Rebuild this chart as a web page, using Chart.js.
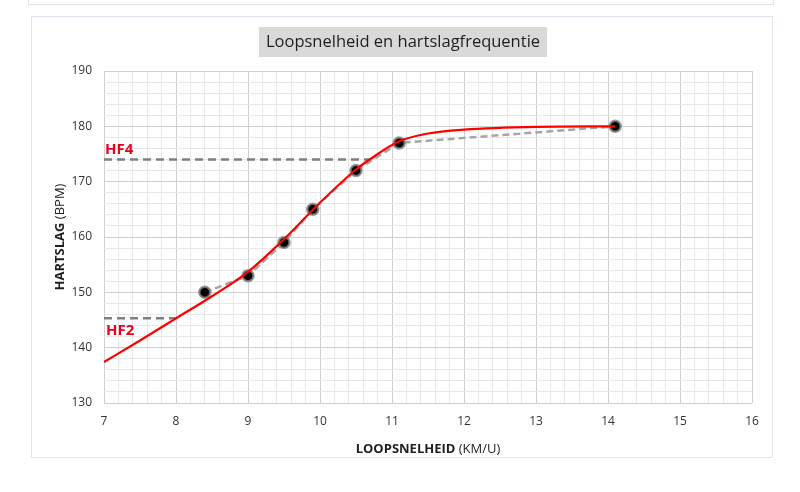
<!DOCTYPE html>
<html>
<head>
<meta charset="utf-8">
<script src="https://cdn.jsdelivr.net/npm/chart.js@4.4.1/dist/chart.umd.min.js"></script>
<style>
  html, body { margin: 0; padding: 0; background: #ffffff; }
  #wrap { position: absolute; left: 0; top: 0; width: 800px; height: 492px; }
</style>
</head>
<body>
<div id="wrap"><canvas id="c" width="800" height="492"></canvas></div>
<script>
// ---- data ----
const chartTitle = 'Loopsnelheid en hartslagfrequentie';
const xTitleBold = 'LOOPSNELHEID';
const xTitleNormal = ' (KM/U)';
const yTitleBold = 'HARTSLAG';
const yTitleNormal = ' (BPM)';

const speed = [8.4, 9, 9.5, 9.9, 10.5, 11.1, 14.1];
const heartRate = [150, 153, 159, 165, 172, 177, 180];

const fitSpeed = [7, 7.5, 8, 8.5, 9, 9.5, 10, 10.5, 10.7, 11.1, 11.5, 12, 13, 14.1];
const fitHeartRate = [137.4, 141.3, 145.3, 149.3, 153.7, 159.6, 166.2, 172.2, 174.1, 177.3, 178.7, 179.4, 179.9, 180];

const hf4Speed = [7, 10.7];
const hf4Rate = [174, 174];
const hf2Speed = [7, 8];
const hf2Rate = [145.3, 145.3];
const hfLabels = ['HF4', 'HF2'];

const xMin = 7, xMax = 16, xMinor = 0.2;
const yMin = 130, yMax = 190, yMinor = 2;

const toXY = (xs, ys) => xs.map((x, i) => ({ x: x, y: ys[i] }));
const isMajor = (v, step) => Math.abs(v / step - Math.round(v / step)) < 1e-6;

const FONT = "'Open Sans', 'Liberation Sans', sans-serif";

const decorPlugin = {
  id: 'decor',
  beforeDraw(chart) {
    const ctx = chart.ctx;
    ctx.save();
    ctx.fillStyle = '#ffffff';
    ctx.fillRect(0, 0, chart.width, chart.height);
    ctx.strokeStyle = '#dfe5ec';
    ctx.lineWidth = 1;
    ctx.strokeRect(28.5, -10.5, 745, 15);
    ctx.strokeRect(31.5, 16.5, 741, 441);
    // title
    let size = 18;
    ctx.font = size + 'px ' + FONT;
    while (ctx.measureText(chartTitle).width > 280 && size > 10) {
      size -= 0.5;
      ctx.font = size + 'px ' + FONT;
    }
    const tw = ctx.measureText(chartTitle).width;
    const cx = 403;
    ctx.fillStyle = '#d9d9d9';
    ctx.fillRect(cx - tw / 2 - 7, 27, tw + 14, 30);
    ctx.fillStyle = '#1f1f1f';
    ctx.textAlign = 'center';
    ctx.textBaseline = 'middle';
    ctx.fillText(chartTitle, cx, 42.5);
    ctx.restore();
  },
  afterDraw(chart) {
    const ctx = chart.ctx;
    const xs = chart.scales.x, ys = chart.scales.y;
    const area = chart.chartArea;
    ctx.save();
    ctx.fillStyle = '#1f1f1f';
    ctx.textBaseline = 'middle';
    // x title
    const bF = 'bold 13px ' + FONT, nF = '13px ' + FONT;
    ctx.font = bF; const w1 = ctx.measureText(xTitleBold).width;
    ctx.font = nF; const w2 = ctx.measureText(xTitleNormal).width;
    let sx = (area.left + area.right) / 2 - (w1 + w2) / 2;
    ctx.textAlign = 'left';
    ctx.font = bF; ctx.fillText(xTitleBold, sx, 449);
    ctx.font = nF; ctx.fillText(xTitleNormal, sx + w1, 449);
    // y title
    ctx.save();
    ctx.translate(60, (area.top + area.bottom) / 2);
    ctx.rotate(-Math.PI / 2);
    ctx.font = bF; const v1 = ctx.measureText(yTitleBold).width;
    ctx.font = nF; const v2 = ctx.measureText(yTitleNormal).width;
    const s = -(v1 + v2) / 2;
    ctx.font = bF; ctx.fillText(yTitleBold, s, 0);
    ctx.font = nF; ctx.fillText(yTitleNormal, s + v1, 0);
    ctx.restore();
    // HF labels
    ctx.fillStyle = '#e8001c';
    ctx.font = 'bold 15px ' + FONT;
    ctx.textAlign = 'left';
    ctx.fillText(hfLabels[0], xs.getPixelForValue(xMin) + 1, ys.getPixelForValue(hf4Rate[0]) - 10);
    ctx.fillText(hfLabels[1], xs.getPixelForValue(xMin) + 2, ys.getPixelForValue(hf2Rate[0]) + 12);
    ctx.restore();
  }
};

new Chart(document.getElementById('c'), {
  type: 'scatter',
  data: {
    datasets: [
      {
        label: 'fit',
        data: toXY(fitSpeed, fitHeartRate),
        showLine: true,
        borderColor: '#ff0000',
        borderWidth: 2.2,
        pointRadius: 0,
        cubicInterpolationMode: 'monotone',
        fill: false
      },
      {
        label: 'metingen',
        data: toXY(speed, heartRate),
        showLine: true,
        borderColor: '#a6a6a6',
        borderWidth: 2.5,
        borderDash: [7, 4],
        tension: 0,
        pointRadius: 5.5,
        pointBackgroundColor: '#000000',
        pointBorderColor: 'rgba(130,130,130,0.8)',
        pointBorderWidth: 2.5
      },
      {
        label: 'HF4',
        data: toXY(hf4Speed, hf4Rate),
        showLine: true,
        borderColor: '#7f7f7f',
        borderWidth: 2.5,
        borderDash: [8, 5],
        pointRadius: 0
      },
      {
        label: 'HF2',
        data: toXY(hf2Speed, hf2Rate),
        showLine: true,
        borderColor: '#7f7f7f',
        borderWidth: 2.5,
        borderDash: [8, 5],
        pointRadius: 0
      }
    ]
  },
  options: {
    responsive: false,
    animation: false,
    devicePixelRatio: 1,
    layout: { padding: { left: 31, right: 48, top: 71, bottom: 0 } },
    plugins: {
      legend: { display: false },
      title: { display: false },
      tooltip: { enabled: false }
    },
    scales: {
      x: {
        type: 'linear',
        min: xMin, max: xMax,
        afterFit(scale) { scale.height = 89; },
        border: { display: false },
        grid: {
          drawTicks: false,
          color: (c) => isMajor(c.tick.value, 1) ? '#d0d0d0' : '#e8e8e8',
          lineWidth: 1
        },
        ticks: {
          stepSize: xMinor,
          maxTicksLimit: 200,
          autoSkip: false,
          maxRotation: 0,
          padding: 11,
          color: '#333333',
          font: { size: 12, family: FONT },
          callback: (v) => isMajor(v, 1) ? String(Math.round(v)) : ''
        }
      },
      y: {
        type: 'linear',
        min: yMin, max: yMax,
        afterFit(scale) { scale.width = 73; },
        border: { display: false },
        grid: {
          drawTicks: false,
          color: (c) => isMajor(c.tick.value, 10) ? '#d0d0d0' : '#e8e8e8',
          lineWidth: 1
        },
        ticks: {
          stepSize: yMinor,
          maxTicksLimit: 200,
          autoSkip: false,
          padding: 12,
          color: '#333333',
          font: { size: 12, family: FONT },
          callback: (v) => isMajor(v, 10) ? String(Math.round(v)) : ''
        }
      }
    }
  },
  plugins: [decorPlugin]
});
</script>
</body>
</html>
